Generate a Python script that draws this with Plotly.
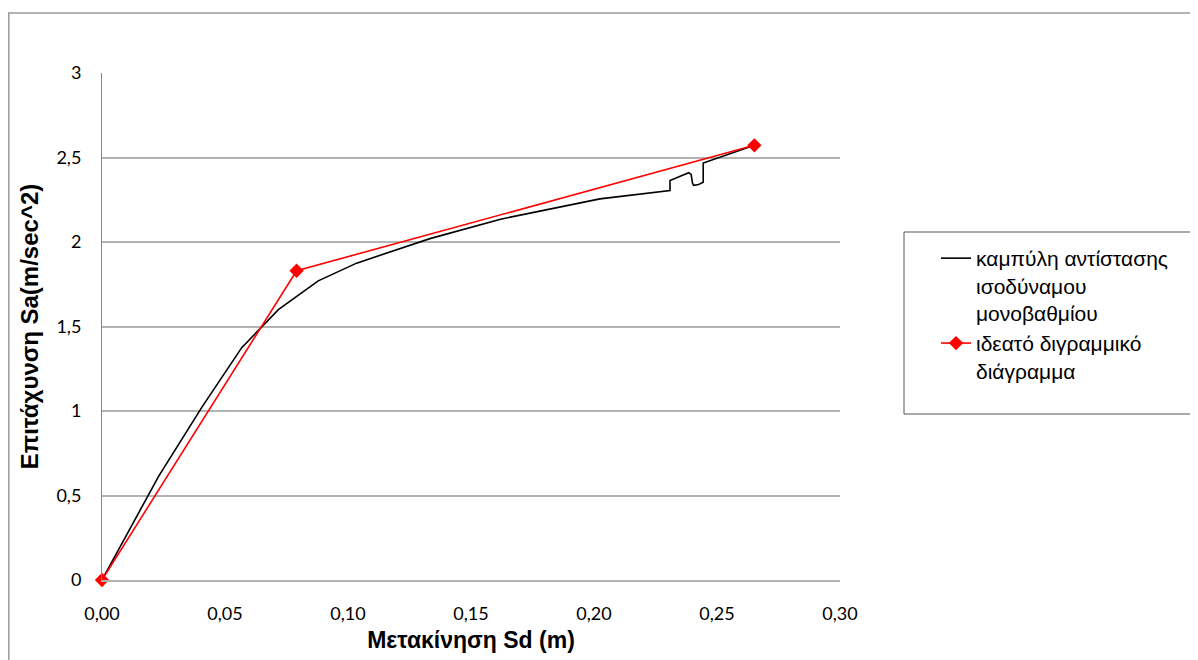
import plotly.graph_objects as go

# Capacity curve (black)
cap_sd = [0.0, 0.023, 0.0405, 0.0568, 0.0717, 0.0879, 0.1035, 0.1333, 0.162, 0.2024,
          0.2309, 0.2309, 0.2385, 0.2395, 0.2400, 0.2405, 0.2425, 0.2444, 0.2444, 0.2652]
cap_sa = [0.0, 0.613, 1.02, 1.375, 1.60, 1.77, 1.875, 2.02, 2.135, 2.255,
          2.304, 2.364, 2.41, 2.40, 2.35, 2.335, 2.34, 2.354, 2.467, 2.572]

# Idealised bilinear (red)
bil_sd = [0.0, 0.0791, 0.2652]
bil_sa = [0.0, 1.83, 2.572]

name_cap = "καμπύλη αντίστασης<br>ισοδύναμου<br>μονοβαθμίου"
name_bil = "ιδεατό διγραμμικό<br>διάγραμμα"

x_title = "Μετακίνηση Sd (m)"
y_title = "Επιτάχυνση Sa(m/sec^2)"

fig = go.Figure()
fig.add_trace(go.Scatter(x=cap_sd, y=cap_sa, mode="lines", name=name_cap,
                         line=dict(color="black", width=1.6)))
fig.add_trace(go.Scatter(x=bil_sd, y=bil_sa, mode="lines+markers", name=name_bil,
                         line=dict(color="#ff0000", width=1.6), cliponaxis=False,
                         marker=dict(symbol="diamond", size=11, color="#ff0000")))

# page body has an 8px margin; plot area in window: x 102..840, y 73..580
P_W = 738.0
P_H = 507.0
def px(xp):
    return (xp - 102) / P_W
def py(yp):
    return (580 - yp) / P_H

shapes = [
    dict(type="rect", xref="paper", yref="paper", x0=px(8.8), x1=px(1400), y0=py(900), y1=py(13),
         line=dict(color="#9a9a9a", width=1.5), fillcolor="rgba(0,0,0,0)", layer="below"),
    dict(type="rect", xref="paper", yref="paper", x0=px(904), x1=px(1197), y0=py(414), y1=py(232),
         line=dict(color="#555555", width=1), fillcolor="rgba(0,0,0,0)"),
]

fig.update_layout(
    width=1190, height=652,
    margin=dict(l=94, r=358, t=65, b=80),
    paper_bgcolor="white", plot_bgcolor="white",
    separators=",.",
    showlegend=True,
    legend=dict(x=px(936), y=py(238), xanchor="left", yanchor="top", valign="top",
                font=dict(family="Liberation Sans, Arial", size=21, color="black"),
                bgcolor="rgba(0,0,0,0)", borderwidth=0, tracegroupgap=0,
                itemwidth=30),
    shapes=shapes,
    xaxis=dict(range=[0, 0.30], tickvals=[0, 0.05, 0.10, 0.15, 0.20, 0.25, 0.30],
               tickformat=".2f", showgrid=False, zeroline=False,
               showline=True, linecolor="#b3b3b3", linewidth=1.5,
               tickfont=dict(family="Lato, Open Sans", size=18, color="black"),
               ticks="", ticklabelstandoff=17,
               title=dict(text="<b>" + x_title + "</b>", standoff=9,
                          font=dict(family="Liberation Sans, Arial", size=23, color="black"))),
    yaxis=dict(range=[0, 3], tickvals=[0, 0.5, 1, 1.5, 2, 2.5, 3],
               showgrid=True, gridcolor="#b3b3b3", gridwidth=1.5, zeroline=False,
               showline=True, linecolor="#868686", linewidth=1,
               tickfont=dict(family="Lato, Open Sans", size=18, color="black"),
               ticks="", ticklabelstandoff=16,
               title=dict(text="<b>" + y_title + "</b>", standoff=11,
                          font=dict(family="Liberation Sans, Arial", size=24, color="black"))),
)

fig.write_html("out.html")
